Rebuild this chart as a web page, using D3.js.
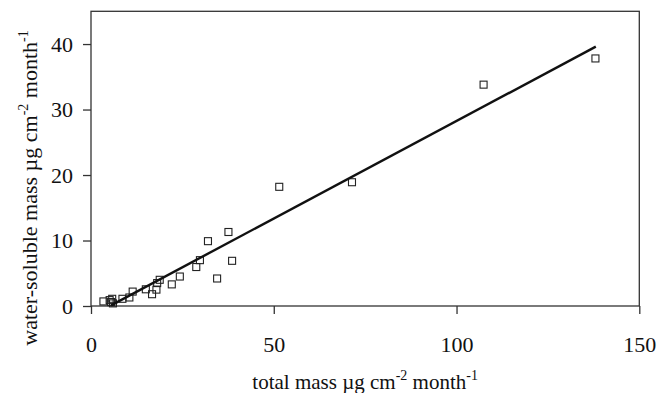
<!DOCTYPE html>
<html><head><meta charset="utf-8">
<script src="https://cdn.jsdelivr.net/npm/d3@7"></script>
<style>body{margin:0;background:#fff}svg{display:block}text{font-family:"Liberation Serif","Times New Roman",serif;fill:#111}</style>
</head><body><svg id="c" width="660" height="393"></svg>
<script>
const totalMass = [3.4,5.1,5.8,6.0,5.5,8.6,10.5,11.4,15.0,16.7,17.9,18.1,18.8,22.1,24.3,28.8,29.8,32.0,34.5,37.6,38.6,51.5,71.4,107.4,138.0];
const solubleMass = [0.7,0.9,1.1,0.4,0.6,1.1,1.3,2.2,2.55,1.8,2.5,3.5,4.0,3.3,4.5,5.95,7.0,9.9,4.2,11.3,6.9,18.2,18.9,33.8,37.8];
const fitX = [5.5,138.1];
const fitY = [0.1,39.6];
const xTicks = [0,50,100,150];
const yTicks = [0,10,20,30,40];

const svg = d3.select("#c");
const L=91,R=639.3,T=11.3,B=306;
const x = d3.scaleLinear().domain([0,150]).range([L,R]);
const y = d3.scaleLinear().domain([0,45]).range([B,T]);

svg.append("rect").attr("x",L).attr("y",T).attr("width",R-L).attr("height",B-T)
  .attr("fill","none").attr("stroke","#333").attr("stroke-width",1.3);

const gx = svg.append("g").attr("transform",`translate(0,${B})`)
  .call(d3.axisBottom(x).tickValues(xTicks).tickSize(8).tickSizeOuter(0).tickPadding(22));
const gy = svg.append("g").attr("transform",`translate(${L},0)`)
  .call(d3.axisLeft(y).tickValues(yTicks).tickSize(8).tickSizeOuter(0).tickPadding(10));
[gx,gy].forEach(g=>{
  g.attr("font-family",'"Liberation Serif",serif').attr("font-size",22);
  g.select(".domain").remove();
  g.selectAll(".tick line").attr("stroke","#333").attr("stroke-width",1.3);
  g.selectAll(".tick text").attr("font-size",22).attr("fill","#111")
   .style("font-family",'"Liberation Serif",serif');
});

const pts = totalMass.map((v,i)=>({x:v,y:solubleMass[i]}));
svg.append("g").selectAll("rect").data(pts).join("rect")
  .attr("x",d=>x(d.x)-3.5).attr("y",d=>y(d.y)-3.5).attr("width",7).attr("height",7)
  .attr("fill","none").attr("stroke","#222").attr("stroke-width",1.1);

const fit = fitX.map((v,i)=>({x:v,y:fitY[i]}));
svg.append("path").datum(fit)
  .attr("d",d3.line().x(d=>x(d.x)).y(d=>y(d.y)))
  .attr("fill","none").attr("stroke","#111").attr("stroke-width",2.4);

const xt = svg.append("text").attr("x",(L+R)/2).attr("y",389).attr("text-anchor","middle").attr("font-size",21);
xt.append("tspan").text("total mass µg cm");
xt.append("tspan").attr("font-size",14).attr("dy",-9).text("-2");
xt.append("tspan").attr("dy",9).text(" month");
xt.append("tspan").attr("font-size",14).attr("dy",-9).text("-1");

const yt = svg.append("text").attr("transform","translate(37,188) rotate(-90)").attr("text-anchor","middle").attr("font-size",22);
yt.append("tspan").text("water-soluble mass µg cm");
yt.append("tspan").attr("font-size",14).attr("dy",-9).text("-2");
yt.append("tspan").attr("dy",9).text(" month");
yt.append("tspan").attr("font-size",14).attr("dy",-9).text("-1");
</script></body></html>
